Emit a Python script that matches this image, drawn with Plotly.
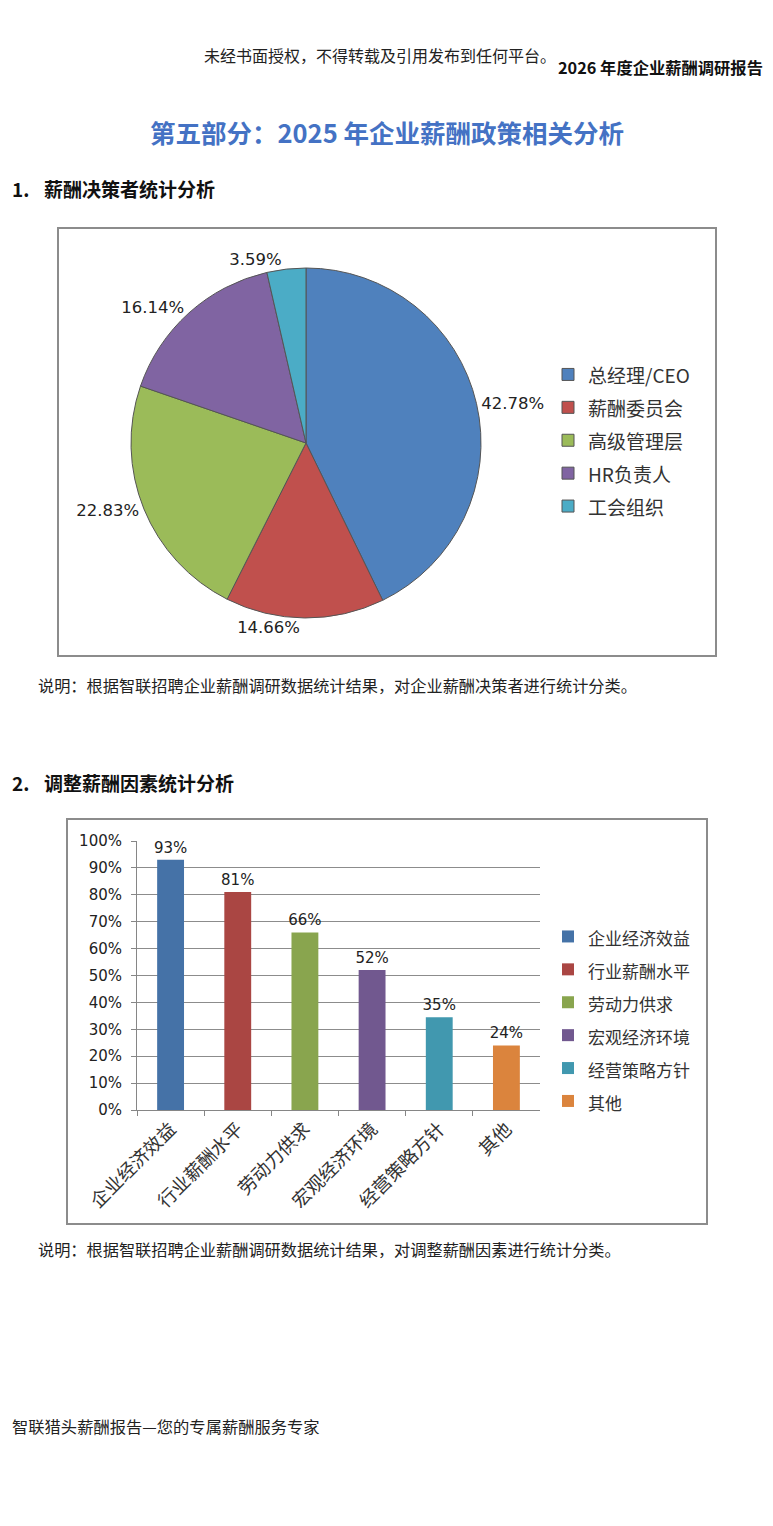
import plotly.graph_objects as go

# page size and the 8px body margin of the html page
PAGE_W, PAGE_H = 773, 1526
OFF = 8
W, H = PAGE_W - OFF, PAGE_H - 2 * OFF

# pie: salary decision makers
pie_labels = ["总经理/CEO", "薪酬委员会", "高级管理层", "HR负责人", "工会组织"]
pie_values = [42.78, 14.66, 22.83, 16.14, 3.59]
pie_colors = ["#4F81BD", "#C0504D", "#9BBB59", "#8064A2", "#4BACC6"]

# bar: factors for adjusting salary
bar_cats = ["企业经济效益", "行业薪酬水平", "劳动力供求", "宏观经济环境", "经营策略方针", "其他"]
bar_values = [0.93, 0.81, 0.66, 0.52, 0.345, 0.24]
bar_labels = ["93%", "81%", "66%", "52%", "35%", "24%"]
bar_colors = ["#4572A7", "#AA4643", "#89A54E", "#71588F", "#4198AF", "#DB843D"]

CJK = "Noto Sans CJK SC"
NUM = "DejaVu Sans"


# page pixels -> paper fractions
def X(px):
    return (px - OFF) / W


def Y(py):
    return 1 - (py - OFF) / H


fig = go.Figure()

fig.add_trace(go.Pie(
    labels=[f'<span style="font-size:19px">{l}</span>' for l in pie_labels],
    values=pie_values,
    sort=False,
    direction="clockwise",
    rotation=0,
    marker=dict(colors=pie_colors, line=dict(color="#555555", width=1)),
    texttemplate="%{value:.2f}%",
    textposition="outside",
    textfont=dict(family=NUM, size=16.5, color="#222222"),
    domain=dict(x=[X(131), X(481)], y=[Y(618), Y(268)]),
    legend="legend",
    automargin=False,
    hoverinfo="label+value",
))

for cat, val, lab, col in zip(bar_cats, bar_values, bar_labels, bar_colors):
    fig.add_trace(go.Bar(
        x=[cat], y=[val],
        name=f'<span style="font-size:17px">{cat}</span>',
        marker=dict(color=col, line=dict(width=0)),
        width=0.4,
        text=[lab], textposition="outside",
        textfont=dict(family=NUM, size=15, color="#222222"),
        cliponaxis=False, constraintext="none",
        legend="legend2",
    ))

fig.update_layout(
    width=W, height=H,
    margin=dict(l=0, r=0, t=0, b=0, autoexpand=False),
    paper_bgcolor="white", plot_bgcolor="white",
    font=dict(family=CJK, color="#222222"),
    barmode="overlay",
    showlegend=True,
    xaxis=dict(
        domain=[X(137), X(540)],
        categoryorder="array", categoryarray=bar_cats,
        tickangle=-45, tickson="boundaries",
        ticks="outside", ticklen=5, tickcolor="#868686",
        showline=True, linecolor="#868686", linewidth=1,
        tickfont=dict(family=CJK, size=18.5, color="#333333"),
        showgrid=False, fixedrange=True, automargin=False,
    ),
    yaxis=dict(
        domain=[Y(1110), Y(841)],
        range=[0, 1], dtick=0.1, tickformat=".0%",
        ticks="outside", ticklen=5, tickcolor="#868686",
        ticklabelstandoff=6,
        showline=True, linecolor="#868686", linewidth=1,
        showgrid=True, gridcolor="#8c8c8c", gridwidth=1,
        tickfont=dict(family=NUM, size=15, color="#222222"),
        zeroline=False, fixedrange=True, automargin=False,
    ),
    legend=dict(
        x=X(548), y=Y(353), xanchor="left", yanchor="top",
        font=dict(family=CJK, size=23, color="#333333"),
        bgcolor="rgba(0,0,0,0)",
    ),
    legend2=dict(
        x=X(548), y=Y(915), xanchor="left", yanchor="top",
        font=dict(family=CJK, size=23, color="#333333"),
        bgcolor="rgba(0,0,0,0)",
    ),
)

# chart frames
for x0, y0, x1, y1 in [(58, 228, 716, 656), (67, 819, 707, 1224)]:
    fig.add_shape(type="rect", xref="paper", yref="paper",
                  x0=X(x0), x1=X(x1), y0=Y(y1), y1=Y(y0),
                  line=dict(color="#8c8c8c", width=2), layer="below")

# page text
texts = [
    (558, 55, "未经书面授权，不得转载及引用发布到任何平台。", 16, False, "#222222", "right"),
    (765, 67, "2026 年度企业薪酬调研报告", 16.3, True, "#111111", "right"),
    (387, 132, "第五部分：2025 年企业薪酬政策相关分析", 25.5, True, "#4472C4", "center"),
    (10, 189, "1.", 19, True, "#111111", "left"),
    (42, 189, "薪酬决策者统计分析", 19, True, "#111111", "left"),
    (36, 685, "说明：根据智联招聘企业薪酬调研数据统计结果，对企业薪酬决策者进行统计分类。", 16.2, False, "#222222", "left"),
    (10, 783, "2.", 19, True, "#111111", "left"),
    (42, 783, "调整薪酬因素统计分析", 19, True, "#111111", "left"),
    (36, 1249, "说明：根据智联招聘企业薪酬调研数据统计结果，对调整薪酬因素进行统计分类。", 16.2, False, "#222222", "left"),
    (10, 1426, "智联猎头薪酬报告—您的专属薪酬服务专家", 16.3, False, "#222222", "left"),
]
for px, py, t, size, bold, col, anchor in texts:
    fig.add_annotation(
        x=X(px), y=Y(py), xref="paper", yref="paper",
        text=f"<b>{t}</b>" if bold else t,
        showarrow=False, xanchor=anchor, yanchor="middle",
        font=dict(family=CJK, size=size, color=col),
    )

fig.write_html("out.html")
